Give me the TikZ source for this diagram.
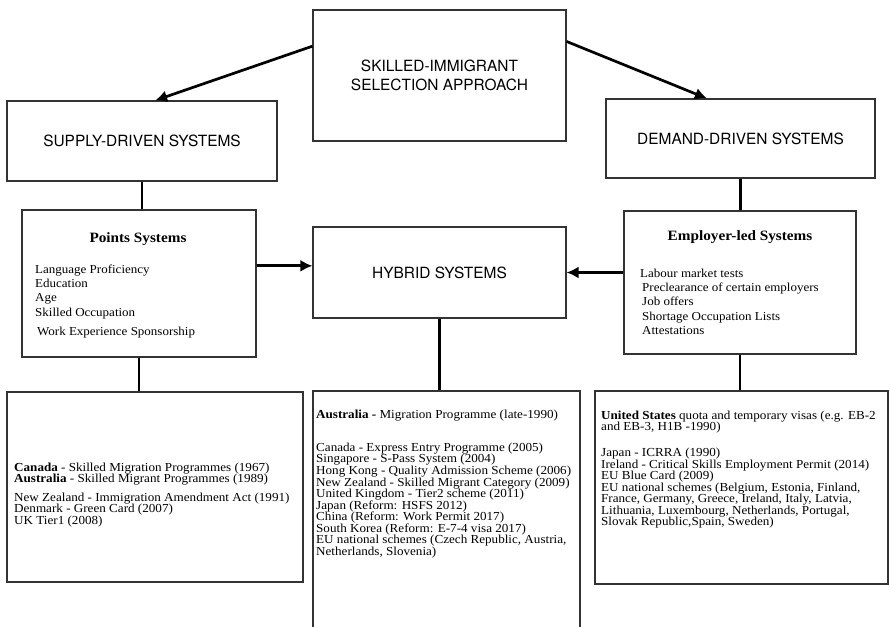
\documentclass[tikz,border=0pt]{standalone}
\usepackage{fontspec}
\setmainfont[FakeStretch=1.07]{Liberation Serif}
\newfontfamily\headfont{TeX Gyre Heros}
\usetikzlibrary{arrows.meta}
\newlength{\du}
\setlength{\du}{1bp}
\newcommand\tightlines{\lineskiplimit=-20pt\relax}
\tikzset{
  box/.style={draw=black!80, line width=1.1\du, rectangle, inner sep=0pt},
  headtext/.style={font=\headfont\fontsize{15.5}{19}\selectfont, align=center},
  titletext/.style={font=\bfseries\fontsize{14.3}{17}\selectfont, inner sep=0pt},
  itemtext/.style={font=\fontsize{12.2}{14.4}\selectfont\tightlines, align=left, anchor=base west, inner sep=0pt},
  listtext/.style={font=\fontsize{12.3}{11.6}\selectfont\tightlines, align=left, anchor=base west, inner sep=0pt},
  link/.style={line width=2.7\du, black},
  linkarrow/.style={link, -{Latex[length=12bp,width=12bp]}}
}

\begin{document}
\begin{tikzpicture}[yscale=-1]
\clip (0\du,0\du) rectangle (890\du,627\du);
\fill[white] (0\du,0\du) rectangle (890\du,627\du);
% top row
\node[box, headtext, minimum width=253\du, minimum height=131\du] (approach) at (439.5\du,75.5\du) {SKILLED-IMMIGRANT\\SELECTION APPROACH};
\node[box, headtext, minimum width=270\du, minimum height=80\du] (supply) at (142\du,141\du) {SUPPLY-DRIVEN SYSTEMS};
\node[box, headtext, minimum width=269\du, minimum height=79\du] (demand) at (740.5\du,138.5\du) {DEMAND-DRIVEN SYSTEMS};
% middle row
\node[box, minimum width=234\du, minimum height=147\du] (points) at (139\du,283.5\du) {};
\node[box, headtext, minimum width=253\du, minimum height=91\du] (hybrid) at (439.5\du,272.5\du) {HYBRID SYSTEMS};
\node[box, minimum width=232\du, minimum height=143\du] (employer) at (740\du,282.5\du) {};
\node[titletext] (pointstitle) at (138\du,239\du) {Points Systems};
% base anchor sits on the last line
\node[itemtext] (pointsitems) at (35\du,335.6\du) {Language Proficiency\\Education\\Age\\Skilled Occupation\\[5\du]\hspace*{2\du}Work Experience Sponsorship};
\node[titletext] (employertitle) at (740\du,237\du) {Employer-led Systems};
\node[itemtext] (employeritems) at (642\du,334.6\du) {\hspace*{-2\du}Labour market tests\\Preclearance of certain employers\\Job offers\\Shortage Occupation Lists\\Attestations};
% bottom row
\node[box, minimum width=296\du, minimum height=190\du] (pointslist) at (155\du,487\du) {};
\node[box, minimum width=267\du, minimum height=249\du] (hybridlist) at (446.5\du,515.5\du) {};
\node[box, minimum width=293\du, minimum height=193\du] (employerlist) at (741.5\du,487.5\du) {};
\node[listtext] (pointscountries) at (14\du,524.4\du) {\textbf{Canada} - Skilled Migration Programmes (1967)\\\textbf{Australia} - Skilled Migrant Programmes (1989)\\[7\du]New Zealand - Immigration Amendment Act (1991)\\Denmark - Green Card (2007)\\UK Tier1 (2008)};
\node[listtext] (hybridcountries) at (316\du,555.4\du) {\textbf{Australia -} Migration Programme (late-1990)\\[21.4\du]Canada - Express Entry Programme (2005)\\Singapore - S-Pass System (2004)\\Hong Kong - Quality Admission Scheme (2006)\\New Zealand - Skilled Migrant Category (2009)\\United Kingdom - Tier2 scheme (2011)\\Japan (Reform: HSFS 2012)\\China (Reform: Work Permit 2017)\\South Korea (Reform: E-7-4 visa 2017)\\EU national schemes (Czech Republic, Austria,\\Netherlands, Slovenia)};
\node[listtext] (employercountries) at (601\du,525.8\du) {\textbf{United States} quota and temporary visas (e.g. EB-2\\and EB-3, H1B -1990)\\[14\du]Japan - ICRRA (1990)\\Ireland - Critical Skills Employment Permit (2014)\\EU Blue Card (2009)\\EU national schemes (Belgium, Estonia, Finland,\\France, Germany, Greece, Ireland, Italy, Latvia,\\Lithuania, Luxembourg, Netherlands, Portugal,\\Slovak Republic,Spain, Sweden)};
% connectors
\draw[linkarrow] (approach.167.7) -- (supply.72);
\draw[linkarrow] (approach.15.3) -- (demand.130.3);
\draw[link] (supply.south) -- (supply.south |- points.north);
\draw[link] (demand.south) -- (demand.south |- employer.north);
\draw[linkarrow] (points.east |- hybrid.177.5) -- (hybrid.177.5);
\draw[linkarrow] (employer.west |- hybrid.east) -- (hybrid.east);
\draw[link] (points.south) -- (points.south |- pointslist.north);
\draw[link] (hybrid.south) -- (hybrid.south |- hybridlist.north);
\draw[link] (employer.south) -- (employer.south |- employerlist.north);
\end{tikzpicture}
\end{document}
